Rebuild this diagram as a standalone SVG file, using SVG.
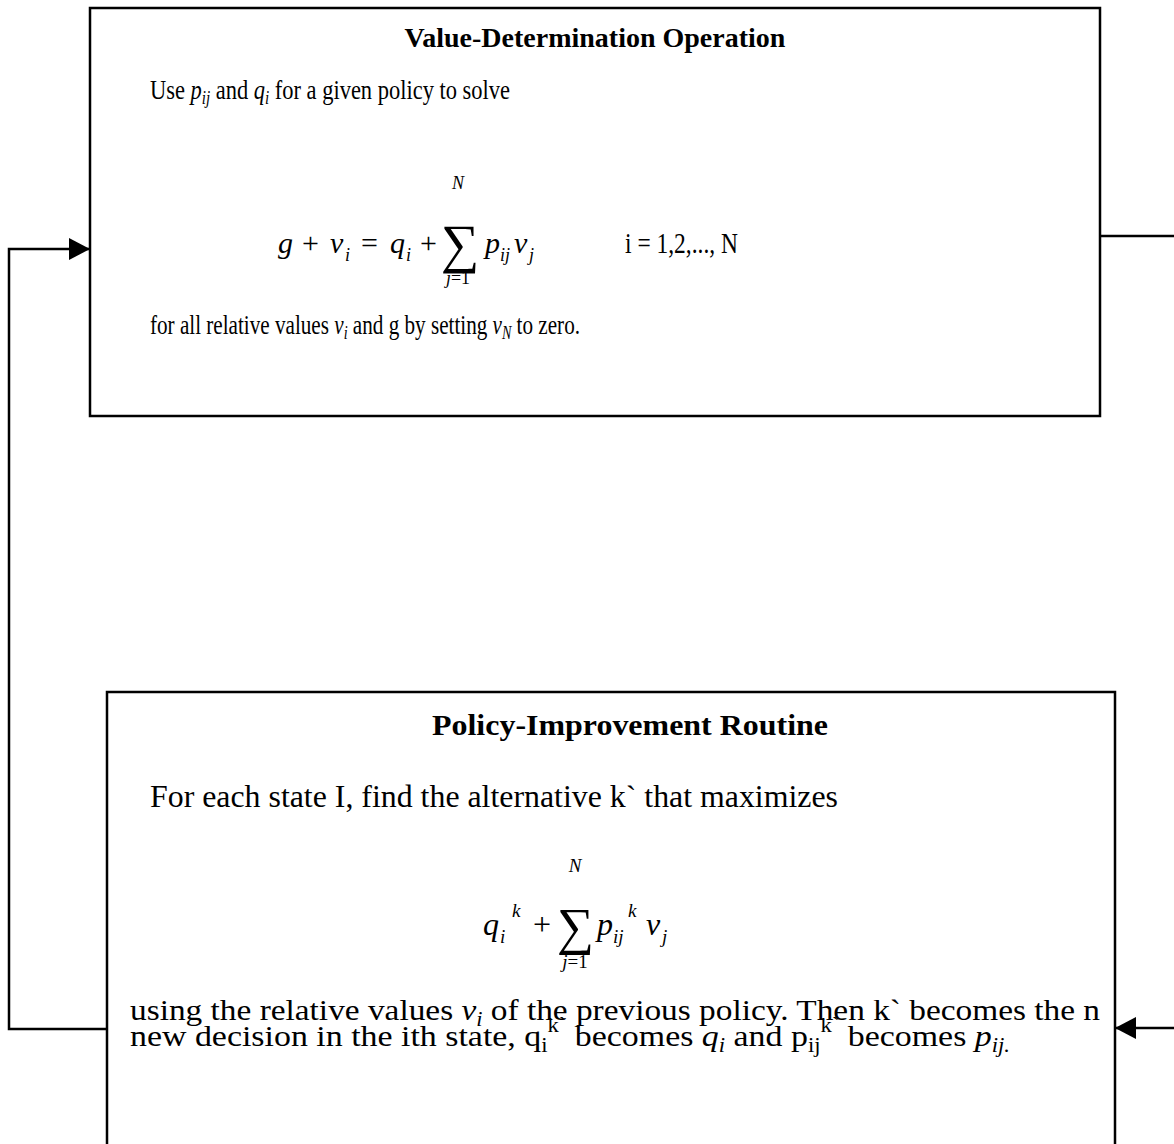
<svg xmlns="http://www.w3.org/2000/svg" width="1174" height="1144" viewBox="0 0 1174 1144">
<style>
  text { font-family: "Liberation Serif", "Times New Roman", serif; fill: #000; }
  .box { fill: #fff; stroke: #000; stroke-width: 2.5; }
  .title { font-weight: bold; text-anchor: middle; }
  .it { font-style: italic; }
  .conn { fill: none; stroke: #000; stroke-width: 2.5; }
</style>
<defs>
  <marker id="arrow" markerUnits="userSpaceOnUse" markerWidth="22" markerHeight="22" refX="21" refY="11" orient="auto">
    <path d="M0,0 L21,11 L0,22 Z" fill="#000"/>
  </marker>
</defs>

<g id="value-determination">
  <rect class="box" x="90" y="8" width="1010" height="408"/>
  <text class="title" x="595" y="47" font-size="28">Value-Determination Operation</text>
  <text x="150" y="99" font-size="27" textLength="360" lengthAdjust="spacingAndGlyphs">Use <tspan class="it">p</tspan><tspan class="it" font-size="18" dy="5">ij</tspan><tspan dy="-5"> and </tspan><tspan class="it">q</tspan><tspan class="it" font-size="18" dy="5">i</tspan><tspan dy="-5"> for a given policy to solve</tspan></text>
  <g font-size="30">
    <text class="it" x="278" y="253">g</text>
    <text x="302" y="253">+</text>
    <text class="it" x="330" y="253">v</text>
    <text class="it" x="345" y="261" font-size="18">i</text>
    <text x="361" y="253">=</text>
    <text class="it" x="390" y="253">q</text>
    <text class="it" x="406" y="261" font-size="18">i</text>
    <text x="420" y="253">+</text>
    <text x="441" y="262" font-size="54">∑</text>
    <text class="it" x="458" y="189" font-size="18" text-anchor="middle">N</text>
    <text x="458" y="284" font-size="18" text-anchor="middle"><tspan class="it">j</tspan>=1</text>
    <text class="it" x="485" y="253">p</text>
    <text class="it" x="500" y="261" font-size="18">ij</text>
    <text class="it" x="514" y="253">v</text>
    <text class="it" x="529" y="261" font-size="18">j</text>
    <text x="625" y="253" textLength="113" lengthAdjust="spacingAndGlyphs">i = 1,2,..., N</text>
  </g>
  <text x="150" y="334" font-size="27" textLength="430" lengthAdjust="spacingAndGlyphs">for all relative values <tspan class="it">v</tspan><tspan class="it" font-size="18" dy="5">i</tspan><tspan dy="-5"> and g by setting </tspan><tspan class="it">v</tspan><tspan class="it" font-size="18" dy="5">N</tspan><tspan dy="-5"> to zero.</tspan></text>
</g>

<g id="policy-improvement">
  <rect class="box" x="107" y="692" width="1008" height="470"/>
  <text class="title" x="630" y="735" font-size="30" textLength="396" lengthAdjust="spacingAndGlyphs">Policy-Improvement Routine</text>
  <text x="150" y="807" font-size="31" textLength="688" lengthAdjust="spacingAndGlyphs">For each state I, find the alternative k` that maximizes</text>
  <g font-size="32">
    <text class="it" x="483" y="935">q</text>
    <text class="it" x="500" y="943" font-size="19">i</text>
    <text class="it" x="512" y="917" font-size="19">k</text>
    <text x="533" y="935">+</text>
    <text x="557" y="944" font-size="52">∑</text>
    <text class="it" x="575" y="872" font-size="19" text-anchor="middle">N</text>
    <text x="575" y="968" font-size="19" text-anchor="middle"><tspan class="it">j</tspan>=1</text>
    <text class="it" x="597" y="935">p</text>
    <text class="it" x="613" y="943" font-size="19">ij</text>
    <text class="it" x="628" y="917" font-size="19">k</text>
    <text class="it" x="646" y="935">v</text>
    <text class="it" x="662" y="943" font-size="19">j</text>
  </g>
  <text x="130" y="1020" font-size="30" textLength="970" lengthAdjust="spacingAndGlyphs">using the relative values <tspan class="it">v</tspan><tspan class="it" font-size="20" dy="6">i</tspan><tspan dy="-6"> of the previous policy. Then k` becomes the n</tspan></text>
  <text x="130" y="1046" font-size="30" textLength="880" lengthAdjust="spacingAndGlyphs">new decision in the ith state, q<tspan font-size="20" dy="6">i</tspan><tspan font-size="20" dy="-20">k`</tspan><tspan dy="14"> becomes </tspan><tspan class="it">q</tspan><tspan class="it" font-size="20" dy="6">i</tspan><tspan dy="-6"> and p</tspan><tspan font-size="20" dy="6">ij</tspan><tspan font-size="20" dy="-20">k`</tspan><tspan dy="14"> becomes </tspan><tspan class="it">p</tspan><tspan class="it" font-size="20" dy="6">ij.</tspan></text>
</g>

<g id="connectors">
  <path class="conn" d="M107,1029 H9 V249 H90" marker-end="url(#arrow)"/>
  <path class="conn" d="M1100,236 H1174"/>
  <path class="conn" d="M1174,1028 H1115" marker-end="url(#arrow)"/>
</g>
</svg>
